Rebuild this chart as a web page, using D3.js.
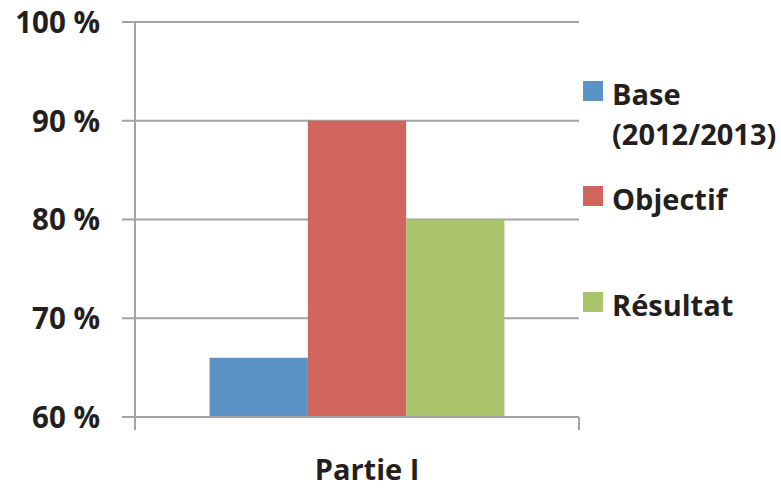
<!DOCTYPE html>
<html>
<head>
<meta charset="utf-8">
<script src="https://cdn.jsdelivr.net/npm/d3@7"></script>
<style>
  body { margin: 0; background: #fff; }
  text { font-family: "Open Sans", sans-serif; font-weight: bold; fill: #231f20; }
</style>
</head>
<body>
<svg id="chart"></svg>
<script>
const categories = ['Partie I'];
const seriesNames = ['Base', 'Objectif', 'Résultat'];
const legendLines = [['Base', '(2012/2013)'], ['Objectif'], ['Résultat']];
const colors = ['#5b93c7', '#cf655d', '#a9c46a'];
const values = [[66], [90], [80]]; // per series, per category
const yTicks = [60, 70, 80, 90, 100];

const svg = d3.select('#chart').attr('width', 781).attr('height', 489)

const plotLeft = 135, plotRight = 579, plotTop = 22, plotBottom = 417
const grid = '#a3a3a3'

const y = d3.scaleLinear().domain([60, 100]).range([plotBottom, plotTop])
const x = d3.scaleBand().domain(categories).range([plotLeft, plotRight])
const xs = d3.scaleBand().domain(seriesNames)
  .range([x.bandwidth() * 0.168, x.bandwidth() * 0.832])

// gridlines + tick marks on the left
svg.selectAll('.grid')
.data(yTicks)
.enter()
.append('line')
.attr('x1', plotLeft - 13)
.attr('x2', plotRight)
.attr('y1', d => y(d))
.attr('y2', d => y(d))
.attr('stroke', grid)
.attr('stroke-width', 2)

svg.selectAll('.ylab')
.data(yTicks)
.enter()
.append('text')
.attr('x', 100)
.attr('y', d => y(d))
.attr('dy', '0.37em')
.attr('text-anchor', 'end')
.attr('font-size', 29.5)
.text(d => d + ' %')

// bars
categories.forEach((c, ci) => {
  svg.selectAll('.bar' + ci)
  .data(seriesNames)
  .enter()
  .append('rect')
  .attr('x', s => x(c) + xs(s))
  .attr('width', xs.bandwidth())
  .attr('y', (s, i) => y(values[i][ci]))
  .attr('height', (s, i) => y(60) - y(values[i][ci]) - 1)
  .attr('fill', (s, i) => colors[i])
})

// axes
svg.append('line').attr('x1', plotLeft).attr('x2', plotLeft).attr('y1', plotTop).attr('y2', plotBottom + 13)
  .attr('stroke', grid).attr('stroke-width', 2)
svg.append('line').attr('x1', plotRight).attr('x2', plotRight).attr('y1', plotBottom).attr('y2', plotBottom + 13)
  .attr('stroke', grid).attr('stroke-width', 2)
svg.append('line').attr('x1', plotLeft).attr('x2', plotRight).attr('y1', plotBottom).attr('y2', plotBottom)
  .attr('stroke', grid).attr('stroke-width', 2)

svg.selectAll('.xlab')
.data(categories)
.enter()
.append('text')
.attr('x', d => x(d) + x.bandwidth() / 2 + 10)
.attr('y', 480)
.attr('text-anchor', 'middle')
.attr('font-size', 29)
.text(d => d)

// legend
const legendY = [81, 186, 292]
const lg = svg.selectAll('.leg')
.data(seriesNames)
.enter()
.append('g')
.attr('transform', (d, i) => `translate(583, ${legendY[i]})`)

lg.append('rect').attr('width', 20).attr('height', 20).attr('fill', (d, i) => colors[i])

lg.each(function (d, i) {
  legendLines[i].forEach((t, j) => {
    d3.select(this).append('text')
    .attr('x', 29)
    .attr('y', 24 + j * 40)
    .attr('font-size', 29)
    .text(t)
  })
})
</script>
</body>
</html>
